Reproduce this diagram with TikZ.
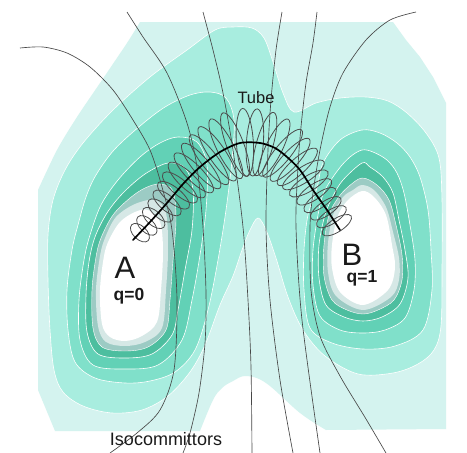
\documentclass[tikz,border=0pt]{standalone}
\usepackage{fontspec}
\setmainfont{Liberation Sans}
\usetikzlibrary{decorations.markings}
\definecolor{lvA}{HTML}{D4F3EF}
\definecolor{lvB}{HTML}{A8EDDF}
\definecolor{lvC}{HTML}{80E0CA}
\definecolor{lvD}{HTML}{62D1B6}
\definecolor{lvE}{HTML}{4DBE9F}
\definecolor{lvF}{HTML}{9CCBC4}
\definecolor{lvG}{HTML}{D6E8E6}
\definecolor{inkc}{HTML}{1A1A1A}
\begin{document}
\begin{tikzpicture}[x=1pt,y=-1pt,
  band/.style={draw=white, line width=0.6pt, line join=round},
  iso/.style={draw=black!72, line width=0.65pt},
  tubering/.style={draw=black!70, line width=0.8pt},
  tubeline/.style={draw=black, line width=1.7pt, line cap=round},
  lbl/.style={inner sep=0pt, text=inkc}]
\useasboundingbox (0,0) rectangle (467,453);
\fill[white] (0,0) rectangle (467,453);

% level 1 (outermost)
\fill[lvA] plot[sharp cycle] coordinates {(140,22) (393,22) (406,40) (420,57) (433,77) (446,103) (446,429) (326,430)}
  -- plot[smooth, tension=0.6] coordinates {(326,430) (300,413) (266,383) (246,376) (233,381) (222,388) (213,400) (200,431)}
  -- (55,431) -- (38,390) -- (38,190) -- plot[smooth, tension=0.5] coordinates {(38,190) (57,150) (77,117) (100,83) (127,43) (140,22)} -- cycle;

% level 2 (big region)
\path[fill=lvB, band] plot[smooth cycle, tension=0.55] coordinates {
 (215,30) (233,27) (252,28) (264,38) (273,62) (283,93) (294,112) (316,103) (340,98) (366,97) (388,101)
 (407,113) (426,133) (439,158) (442,200) (442,270) (441,326) (434,350) (418,364) (393,373) (358,374)
 (325,356) (303,330) (288,297) (276,258) (266,230) (258,218) (250,230) (242,250) (233,276) (220,305)
 (205,345) (190,372) (168,396) (142,410) (112,413) (83,406) (63,392) (54,370) (50,330) (48,280) (48,235)
 (53,200) (65,170) (83,143) (113,110) (150,77) (187,50)};

% level 3
\path[fill=lvC, band] plot[smooth cycle, tension=0.55] coordinates {
 (190,95) (210,92) (226,98) (234,120) (232,160) (226,210) (218,260) (208,310) (195,350) (175,372)
 (150,381) (125,383) (95,378) (75,362) (68,330) (67,290) (72,250) (78,225) (86,197) (96,175) (114,150) (140,126) (165,107)};
\path[fill=lvC, band] plot[smooth cycle, tension=0.55] coordinates {
 (362,130) (380,133) (397,143) (410,157) (420,177) (428,210) (431,250) (432,290) (423,330) (395,346) (363,349)
 (332,343) (310,328) (304,290) (304,250) (308,215) (317,188) (323,163) (340,140)};

% level 4
\path[fill=lvD, band] plot[smooth cycle, tension=0.55] coordinates {
 (178,137) (197,142) (207,165) (206,210) (200,255) (192,300) (182,340) (158,365) (125,369) (93,365)
 (80,340) (79,300) (84,260) (90,235) (101,205) (118,180) (140,157) (160,143)};
\path[fill=lvD, band] plot[smooth cycle, tension=0.55] coordinates {
 (362,150) (373,152) (387,160) (397,173) (404,193) (410,225) (415,260) (414,290) (405,318) (385,330) (363,333)
 (340,330) (320,316) (313,285) (313,250) (318,215) (324,192) (338,170) (350,157)};

% level 5
\path[fill=lvE, band] plot[smooth cycle, tension=0.55] coordinates {
 (168,163) (185,168) (193,190) (192,230) (185,270) (178,310) (172,335) (152,354) (125,358) (98,354)
 (87,332) (86,295) (89,262) (95,237) (107,213) (123,193) (145,174)};
\path[fill=lvE, band] plot[smooth cycle, tension=0.55] coordinates {
 (362,163) (370,167) (383,177) (393,193) (399,220) (405,250) (408,278) (400,304) (382,317) (363,321)
 (344,317) (326,305) (319,278) (319,245) (325,215) (333,196) (343,180)};

% level 6 (grey)
\path[fill=lvF, draw=white, line width=0.4pt] plot[smooth cycle, tension=0.55] coordinates {
 (160,184) (173,191) (176,220) (173,260) (170,300) (166,330) (148,347) (125,351) (102,347) (93,328)
 (92,290) (96,257) (101,238) (113,215) (130,198) (145,188)};
\path[fill=lvF, draw=white, line width=0.4pt] plot[smooth cycle, tension=0.55] coordinates {
 (362,178) (377,185) (389,200) (396,225) (402,255) (402,280) (394,300) (378,310) (363,314)
 (347,310) (332,300) (324,276) (324,245) (329,215) (338,198) (348,187)};

% level 7 (light grey)
\fill[lvG] plot[smooth cycle, tension=0.55] coordinates {
 (155,200) (166,213) (168,250) (166,290) (162,328) (145,342) (125,346) (106,342) (98,326) (96,290)
 (100,256) (105,238) (116,217) (135,204)};
\fill[lvG] plot[smooth cycle, tension=0.55] coordinates {
 (362,185) (374,190) (386,207) (393,232) (399,258) (399,280) (391,297) (363,310)
 (336,296) (328,272) (328,243) (333,215) (343,197) (353,190)};

% wells (white)
\fill[white] plot[smooth cycle, tension=0.55] coordinates {
 (148,210) (160,222) (163,250) (161,290) (157,322) (142,336) (125,341) (110,337) (102,324) (100,290)
 (104,256) (109,240) (120,222) (135,212)};
\fill[white] plot[smooth cycle, tension=0.55] coordinates {
 (362,191) (374,197) (386,215) (392,245) (395,268) (388,290) (363,305)
 (340,292) (332,268) (332,245) (337,218) (347,201)};

% isocommittor lines
\draw[iso] plot[smooth] coordinates {(20,48) (43,47) (67,53) (90,67) (113,90) (133,120) (150,150) (162,187) (172,230) (177,300) (174,370) (160,410) (137,433) (110,453)};
\draw[iso] plot[smooth] coordinates {(127,12) (143,37) (167,73) (187,123) (197,167) (203,227) (206,293) (205,343) (199,393) (190,433) (183,453)};
\draw[iso] plot[smooth] coordinates {(203,12) (213,50) (223,93) (233,150) (243,227) (248,300) (251,367) (252,453)};
\draw[iso] plot[smooth] coordinates {(282,12) (276,50) (271,100) (268,150) (266,227) (270,300) (280,380) (293,453)};
\draw[iso] plot[smooth] coordinates {(317,12) (313,43) (306,83) (301,127) (298,167) (296,227) (302,320) (320,453)};
\draw[iso] plot[smooth] coordinates {(416,12) (390,20) (366,40) (343,73) (330,107) (320,150) (313,193) (310,227) (311,290) (320,336) (340,376) (366,419) (386,453)};

% tube rings
\path[postaction={decorate, decoration={markings,
  mark=between positions 0.035 and 0.985 step 0.035 with {
    \pgfmathsetmacro{\ss}{\pgfkeysvalueof{/pgf/decoration/mark info/distance from start}/\pgfdecoratedpathlength}
    \pgfmathsetmacro{\ry}{11+6*\ss+20*pow(sin(180*\ss),2)}
    \pgfmathsetmacro{\rx}{6.5+2*sin(180*\ss)}
    \draw[tubering] (0,0) ellipse [x radius=\rx pt, y radius=\ry pt];
  }}}]
  plot[smooth] coordinates {(133,240) (150,222) (167,203) (183,184) (200,167) (220,152) (240,143) (260,143) (275,148) (287,157) (300,170) (313,190) (327,210) (340,230)};

% tube centre line
\draw[tubeline] plot[smooth] coordinates {(133,240) (150,222) (167,203) (183,184) (200,167) (220,152) (240,143) (260,143) (275,148) (287,157) (300,170) (313,190) (327,210) (340,230)};

% labels
\node[lbl, anchor=base] (labA) at (125,278) {\fontsize{31}{31}\selectfont A};
\node[lbl, anchor=base] (labq0) at (129,300) {\fontsize{17.5}{17.5}\selectfont\bfseries q=0};
\node[lbl, anchor=base] (labB) at (352,265) {\fontsize{31}{31}\selectfont B};
\node[lbl, anchor=base] (labq1) at (362,282) {\fontsize{17.5}{17.5}\selectfont\bfseries q=1};
\node[lbl, anchor=base] (labTube) at (256,103) {\fontsize{16.5}{16.5}\selectfont Tube};
\node[lbl, anchor=base] (labIso) at (166,445) {\fontsize{18}{18}\selectfont Isocommittors};
\end{tikzpicture}
\end{document}
